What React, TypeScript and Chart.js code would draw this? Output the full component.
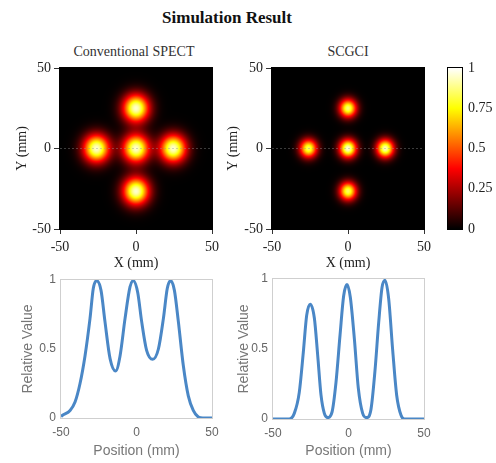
import React, { useEffect, useRef } from 'react';
import { Chart, registerables } from 'chart.js';

Chart.register(...registerables);

// ---- Data ----
const sourceX = [0, -26, 0, 24.5, 0];
const sourceY = [25, 0, 0, 0, -26.5];
const convPeaks = [0.95, 0.95, 0.95, 0.95, 0.95];
const convSigma = 6;
const scgciPeaks = [0.86, 0.84, 0.96, 0.93, 0.84];
const scgciSigma = 4;

const axisTicks = [-50, 0, 50];
const colorbarTicks = [0, 0.25, 0.5, 0.75, 1];
const hotStops = [0, 0.375, 0.75, 1];
const profileTicks = [0, 0.5, 1];
const profileLineX = [-50, 50];
const profileLineY = [0, 0];

const convProfileX = [-50, -49, -44, -40.7, -37.4, -34.1, -30.8, -28.6, -26.4, -23.5, -20.9, -17.5, -13.8, -10.9, -7.6, -4.3, -2.1, 0.8, 3.4, 6.7, 10.7, 14.5, 17.8, 20.4, 22.6, 25.1, 27.7, 31.0, 34.3, 37.6, 41.0, 44, 50];
const convProfileY = [0.01, 0.02, 0.055, 0.116, 0.25, 0.45, 0.72, 0.94, 0.995, 0.925, 0.7, 0.43, 0.34, 0.45, 0.72, 0.95, 0.995, 0.91, 0.7, 0.49, 0.425, 0.5, 0.72, 0.94, 0.995, 0.925, 0.7, 0.38, 0.16, 0.055, 0.007, 0, 0];

const scgciProfileX = [-50, -39.2, -35.9, -32.6, -29.9, -27.7, -25.3, -22.6, -20.4, -18.2, -16.0, -13.8, -10.9, -8.3, -5.6, -3.2, -1.0, 1.2, 3.9, 6.5, 9.4, 12.0, 14.9, 17.5, 20.0, 22.2, 24.2, 26.6, 29.2, 31.9, 34.8, 37.0, 50];
const scgciProfileY = [0, 0, 0.04, 0.19, 0.48, 0.74, 0.82, 0.72, 0.455, 0.17, 0.04, 0.01, 0.05, 0.26, 0.6, 0.88, 0.96, 0.87, 0.57, 0.22, 0.04, 0.01, 0.07, 0.34, 0.69, 0.94, 0.99, 0.86, 0.5, 0.17, 0.026, 0, 0];

// ---- Helpers ----
const W = 496;
const H = 463;
const serif = (size: number, weight: any = 'normal') => ({ family: "'Liberation Serif', 'Times New Roman', serif", size, weight });
const sans = (size: number) => ({ family: "'Liberation Sans', Arial, sans-serif", size });
const plainLabel = (v: any) => String(v);

function hot(t: number): [number, number, number] {
  const c = (v: number) => Math.max(0, Math.min(1, v));
  return [c(t / 0.375) * 255, c((t - 0.375) / 0.375) * 255, c((t - 0.75) / 0.25) * 255];
}

function setTicks(values: number[]) {
  return (s: any) => {
    s.ticks = values.map((v) => ({ value: v }));
  };
}

function heatPlugin(peaks: number[], sigma: number) {
  return {
    id: 'heatImage',
    beforeDatasetsDraw(chart: any) {
      const { ctx, chartArea: a, scales } = chart;
      const w = Math.round(a.right - a.left);
      const h = Math.round(a.bottom - a.top);
      const off = document.createElement('canvas');
      off.width = w;
      off.height = h;
      const octx = off.getContext('2d')!;
      const img = octx.createImageData(w, h);
      const pts = chart.data.datasets[0].data;
      const s2 = 2 * sigma * sigma;
      for (let j = 0; j < h; j++) {
        const vy = scales.y.getValueForPixel(a.top + j + 0.5);
        for (let i = 0; i < w; i++) {
          const vx = scales.x.getValueForPixel(a.left + i + 0.5);
          let v = 0;
          for (let k = 0; k < pts.length; k++) {
            const dx = vx - pts[k].x;
            const dy = vy - pts[k].y;
            v += peaks[k] * Math.exp(-(dx * dx + dy * dy) / s2);
          }
          const [r, g, b] = hot(Math.min(1, v));
          const p = (j * w + i) * 4;
          img.data[p] = r;
          img.data[p + 1] = g;
          img.data[p + 2] = b;
          img.data[p + 3] = 255;
        }
      }
      octx.putImageData(img, 0, 0);
      ctx.save();
      ctx.drawImage(off, a.left, a.top, a.right - a.left, a.bottom - a.top);
      ctx.restore();
    },
  };
}

function framePlugin(color: string) {
  return {
    id: 'frame',
    afterDatasetsDraw(chart: any) {
      const { ctx, chartArea: a } = chart;
      ctx.save();
      ctx.strokeStyle = color;
      ctx.lineWidth = 1;
      ctx.strokeRect(a.left - 0.5, a.top - 0.5, a.right - a.left + 1, a.bottom - a.top + 1);
      ctx.restore();
    },
  };
}

const colorbarPlugin = {
  id: 'colorbar',
  beforeDatasetsDraw(chart: any) {
    const { ctx, chartArea: a, scales } = chart;
    const y0 = scales.y.getPixelForValue(0);
    const y1 = scales.y.getPixelForValue(1);
    const g = ctx.createLinearGradient(0, y0, 0, y1);
    hotStops.forEach((t) => {
      const [r, gg, b] = hot(t);
      g.addColorStop(t, `rgb(${r},${gg},${b})`);
    });
    ctx.save();
    ctx.fillStyle = g;
    ctx.fillRect(a.left, a.top, a.right - a.left, a.bottom - a.top);
    ctx.restore();
  },
};

function heatConfig(peaks: number[], sigma: number, padLeft: number, padRight: number, yWidth: number) {
  return {
    type: 'scatter',
    data: {
      datasets: [
        {
          data: sourceX.map((x, i) => ({ x, y: sourceY[i] })),
          pointRadius: 0,
          showLine: false,
        },
        {
          data: profileLineX.map((x, i) => ({ x, y: profileLineY[i] })),
          showLine: true,
          pointRadius: 0,
          borderColor: 'rgba(150,150,150,0.4)',
          borderWidth: 1,
          borderDash: [2, 2],
        },
      ],
    },
    options: {
      responsive: false,
      animation: false,
      layout: { padding: { left: padLeft, right: padRight, top: 68, bottom: 191 } },
      plugins: { legend: { display: false }, tooltip: { enabled: false } },
      scales: {
        x: {
          type: 'linear',
          min: -50,
          max: 50,
          afterBuildTicks: setTicks(axisTicks),
          afterFit: (s: any) => { s.height = 43; },
          grid: { drawOnChartArea: false, drawTicks: true, tickLength: 5, color: '#333' },
          border: { display: false },
          ticks: { font: serif(14), color: '#222', padding: 5, maxRotation: 0, callback: plainLabel },
          title: { display: true, text: 'X (mm)', font: serif(14), color: '#222', padding: 0 },
        },
        y: {
          type: 'linear',
          min: -50,
          max: 50,
          afterBuildTicks: setTicks(axisTicks),
          afterFit: (s: any) => { s.width = yWidth; },
          grid: { drawOnChartArea: false, drawTicks: true, tickLength: 6, color: '#333' },
          border: { display: false },
          ticks: { font: serif(14), color: '#222', padding: 3, callback: plainLabel },
          title: { display: true, text: 'Y (mm)', font: serif(14), color: '#222', padding: 0 },
        },
      },
    },
    plugins: [heatPlugin(peaks, sigma), framePlugin('#000')],
  };
}

function profileConfig(xs: number[], ys: number[], padLeft: number, padRight: number, top: number, bottom: number, yWidth: number) {
  return {
    type: 'line',
    data: {
      datasets: [
        {
          data: xs.map((x, i) => ({ x, y: ys[i] })),
          borderColor: '#4a87c6',
          borderWidth: 3,
          pointRadius: 0,
          fill: false,
          cubicInterpolationMode: 'monotone',
        },
      ],
    },
    options: {
      responsive: false,
      animation: false,
      layout: { padding: { left: padLeft, right: padRight, top, bottom: 3 } },
      plugins: { legend: { display: false }, tooltip: { enabled: false } },
      scales: {
        x: {
          type: 'linear',
          min: -50,
          max: 50,
          afterBuildTicks: setTicks(axisTicks),
          afterFit: (s: any) => { s.height = 463 - 3 - bottom; },
          grid: { display: false, drawTicks: false },
          border: { display: false },
          ticks: { font: sans(12), color: '#666', padding: 7, maxRotation: 0, callback: plainLabel },
          title: { display: true, text: 'Position (mm)', font: sans(14), color: '#777', padding: 0 },
        },
        y: {
          type: 'linear',
          min: 0,
          max: 1,
          afterBuildTicks: setTicks(profileTicks),
          afterFit: (s: any) => { s.width = yWidth; },
          grid: { display: false, drawTicks: false },
          border: { display: false },
          ticks: { font: sans(12), color: '#666', padding: 5, callback: plainLabel },
          title: { display: true, text: 'Relative Value', font: sans(14), color: '#777', padding: 0 },
        },
      },
    },
    plugins: [framePlugin('#cfcfcf')],
  };
}

const colorbarConfig = {
  type: 'scatter',
  data: { datasets: [{ data: [] as any[] }] },
  options: {
    responsive: false,
    animation: false,
    layout: { padding: { left: 448, right: 4, top: 68, bottom: 234 } },
    plugins: { legend: { display: false }, tooltip: { enabled: false } },
    scales: {
      x: { type: 'linear', display: false, min: 0, max: 1 },
      y: {
        type: 'linear',
        position: 'right',
        min: 0,
        max: 1,
        afterBuildTicks: setTicks(colorbarTicks),
        afterFit: (s: any) => { s.width = 30; },
        grid: { display: false, drawTicks: false },
        border: { display: false },
        ticks: { font: serif(14), color: '#222', padding: 6, callback: plainLabel },
      },
    },
  },
  plugins: [colorbarPlugin, framePlugin('#000')],
};

function ChartLayer({ config }: { config: any }) {
  const ref = useRef<HTMLCanvasElement | null>(null);
  useEffect(() => {
    if (!ref.current) return;
    const chart = new Chart(ref.current, config);
    return () => chart.destroy();
  }, [config]);
  return (
    <canvas
      ref={ref}
      width={W}
      height={H}
      style={{ position: 'absolute', left: 0, top: 0, width: W, height: H }}
    />
  );
}

const configs = [
  heatConfig(convPeaks, convSigma, 14, 284, 46),
  heatConfig(scgciPeaks, scgciSigma, 225, 72, 47),
  colorbarConfig,
  profileConfig(convProfileX, convProfileY, 20, 284, 280, 418, 41),
  profileConfig(scgciProfileX, scgciProfileY, 236, 72, 279, 419, 37),
];

const textBase: React.CSSProperties = {
  position: 'absolute',
  textAlign: 'center',
  fontFamily: "'Liberation Serif', 'Times New Roman', serif",
  color: '#222',
  whiteSpace: 'nowrap',
};

export default function App() {
  return (
    <div style={{ position: 'absolute', left: 0, top: 0, width: W, height: H, background: '#fff', overflow: 'hidden' }}>
      <div style={{ ...textBase, left: 77, top: 8, width: 300, fontSize: 17, lineHeight: '20px', fontWeight: 'bold', color: '#111' }}>
        Simulation Result
      </div>
      <div style={{ ...textBase, left: 34, top: 43, width: 200, fontSize: 14, lineHeight: '18px', color: '#333' }}>
        Conventional SPECT
      </div>
      <div style={{ ...textBase, left: 248, top: 43, width: 200, fontSize: 14, lineHeight: '18px', color: '#333' }}>
        SCGCI
      </div>
      {configs.map((c, i) => (
        <ChartLayer key={i} config={c} />
      ))}
    </div>
  );
}
